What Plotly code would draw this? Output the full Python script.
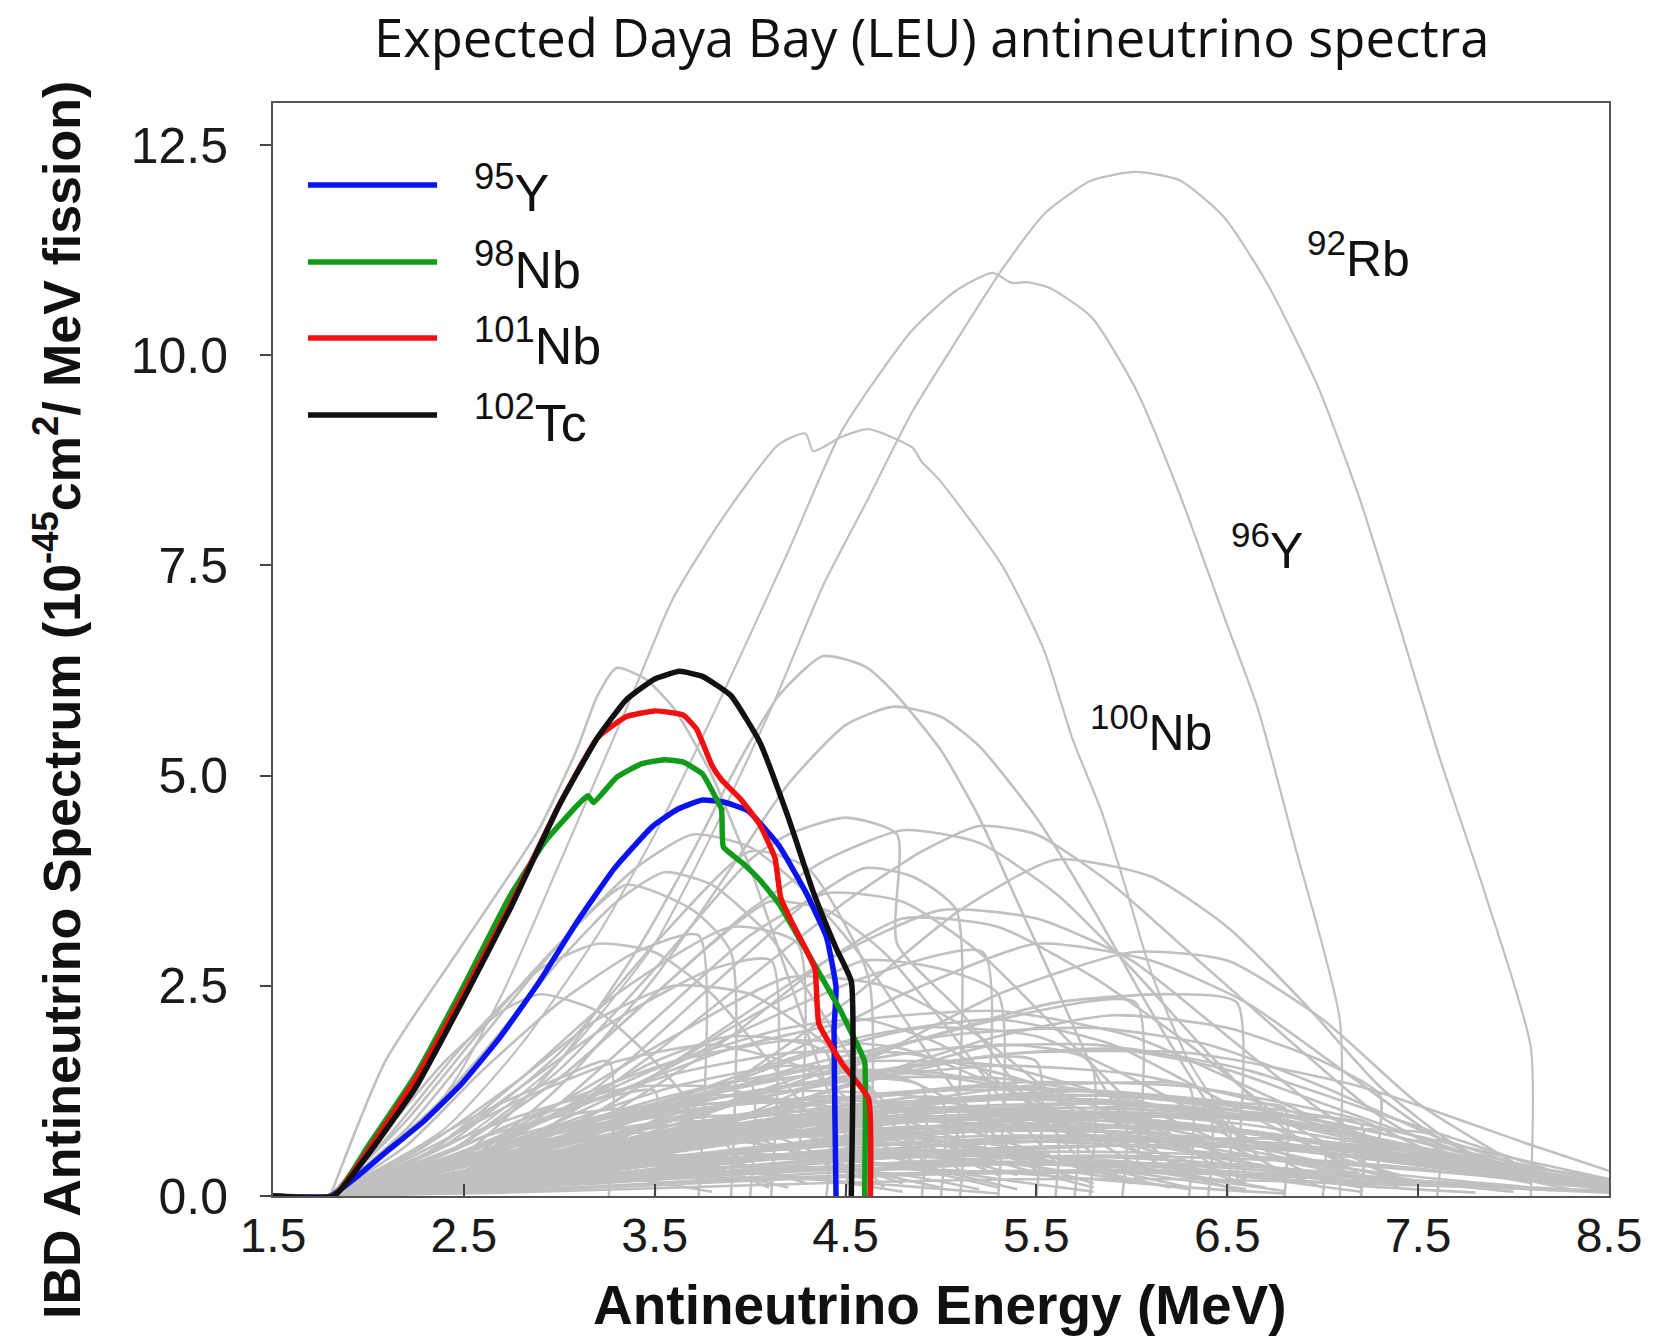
import plotly.graph_objects as go

# ---------------------------------------------------------------------------
# Highlighted isotopes: energy (MeV) and IBD-weighted spectrum
# ---------------------------------------------------------------------------
y95_e = [1.5, 1.8, 1.95, 2.09, 2.29, 2.49, 2.69, 2.89, 3.09, 3.29, 3.49, 3.62, 3.75,
         3.87, 3.99, 4.15, 4.29, 4.40, 4.45, 4.44, 4.45]
y95_v = [0, 0, 0.25, 0.52, 0.89, 1.34, 1.89, 2.53, 3.25, 3.90, 4.40, 4.60, 4.71,
         4.68, 4.58, 4.17, 3.62, 3.08, 2.48, 2.0, 0]

nb98_e = [1.5, 1.82, 2.0, 2.25, 2.5, 2.74, 2.93, 3.1, 3.15, 3.18, 3.3, 3.43, 3.55, 3.65,
          3.75, 3.81, 3.85, 3.86, 3.96, 4.05, 4.15, 4.24, 4.35, 4.47, 4.58, 4.6, 4.6]
nb98_v = [0, 0, 0.6, 1.45, 2.5, 3.56, 4.23, 4.66, 4.76, 4.68, 4.98, 5.14, 5.19, 5.16,
          5.02, 4.78, 4.6, 4.15, 3.96, 3.76, 3.48, 3.13, 2.7, 2.22, 1.71, 1.6, 0]

nb101_e = [1.5, 1.82, 2.0, 2.25, 2.5, 2.74, 3.0, 3.2, 3.35, 3.5, 3.65, 3.72, 3.8, 3.85,
           3.95, 4.05, 4.13, 4.16, 4.22, 4.3, 4.34, 4.36, 4.48, 4.62, 4.63]
nb101_v = [0, 0, 0.55, 1.4, 2.42, 3.44, 4.65, 5.45, 5.7, 5.77, 5.72, 5.55, 5.12, 4.95,
           4.72, 4.42, 4.02, 3.55, 3.25, 2.9, 2.7, 2.05, 1.58, 1.16, 0]

tc102_e = [1.5, 1.82, 2.0, 2.25, 2.5, 2.75, 3.0, 3.2, 3.35, 3.5, 3.63, 3.75, 3.9, 4.05,
           4.2, 4.33, 4.45, 4.53, 4.53]
tc102_v = [0, 0, 0.5, 1.3, 2.35, 3.45, 4.65, 5.45, 5.9, 6.15, 6.24, 6.18, 5.95, 5.4,
           4.5, 3.62, 2.95, 2.55, 0]

# ---------------------------------------------------------------------------
# Labelled grey spectra
# ---------------------------------------------------------------------------
rb92_e = [1.8, 2.5, 3.0, 3.5, 3.8, 4.13, 4.38, 4.62, 4.85, 5.08, 5.32, 5.55, 5.79, 6.02,
          6.25, 6.48, 6.71, 6.98, 7.2, 7.4, 7.6, 7.85, 8.09, 8.09]
rb92_v = [0, 0.7, 1.6, 3.0, 4.3, 5.9, 7.25, 8.3, 9.33, 10.17, 11.02, 11.7, 12.08, 12.18,
          12.08, 11.65, 10.85, 9.6, 8.25, 6.8, 5.3, 3.6, 1.77, 0]

y96_e = [1.8, 2.4, 2.8, 3.2, 3.5, 3.84, 4.2, 4.48, 4.85, 5.08, 5.27, 5.37, 5.45, 5.57,
         5.79, 6.02, 6.25, 6.49, 6.66, 6.85, 7.09, 7.09]
y96_v = [0, 0.8, 1.8, 3.1, 4.3, 5.89, 7.67, 9.1, 10.3, 10.77, 10.98, 10.86, 10.87, 10.8,
         10.45, 9.6, 8.35, 6.85, 5.8, 4.2, 2.09, 0]

nb100_e = [1.8, 2.4, 2.7, 3.0, 3.2, 3.39, 3.59, 3.84, 4.15, 4.29, 4.33, 4.48, 4.62, 4.85,
           4.9, 4.99, 5.32, 5.54, 5.69, 5.84, 5.97, 6.1, 6.3, 6.56, 6.9, 7.3]
nb100_v = [0, 1.2, 2.4, 3.95, 5.0, 6.0, 7.08, 8.01, 8.94, 9.07, 8.86, 9.03, 9.12, 8.9,
           8.73, 8.52, 7.5, 6.49, 5.43, 4.58, 3.65, 2.67, 1.6, 0.76, 0.3, 0.1]

# ---------------------------------------------------------------------------
# Remaining fission-product spectra (unlabelled, grey)
# ---------------------------------------------------------------------------
upper_spectra = [
    ([1.8, 2.09, 2.49, 2.89, 3.09, 3.2, 3.3, 3.45, 3.6, 3.8, 4.0, 4.2, 4.4, 4.55, 4.7],
     [0, 1.61, 2.98, 4.35, 5.3, 5.95, 6.28, 6.15, 5.8, 5.0, 3.9, 2.6, 1.3, 0.5, 0.1]),
    ([1.8, 2.5, 3.0, 3.4, 3.7, 3.95, 4.15, 4.38, 4.6, 4.75, 5.0, 5.2, 5.4, 5.6, 5.8, 6.0,
      6.3, 6.6],
     [0, 0.5, 1.6, 2.9, 4.1, 5.2, 5.95, 6.42, 6.3, 6.0, 5.3, 4.5, 3.5, 2.5, 1.5, 0.8,
      0.25, 0.05]),
    ([1.8, 2.5, 3.0, 3.5, 3.9, 4.2, 4.5, 4.75, 5.0, 5.2, 5.5, 5.8, 6.1, 6.4, 6.7, 7.0],
     [0, 0.4, 1.3, 2.6, 3.9, 4.9, 5.6, 5.82, 5.7, 5.35, 4.5, 3.4, 2.2, 1.1, 0.4, 0.1]),
    ([1.8, 2.5, 3.0, 3.5, 4.0, 4.5, 4.9, 5.2, 5.5, 5.9, 6.3, 6.8, 7.3, 7.8, 8.3],
     [0, 0.3, 0.9, 1.7, 2.6, 3.5, 4.1, 4.4, 4.3, 3.7, 2.9, 1.9, 0.95, 0.35, 0.08]),
    ([1.8, 2.4, 3.0, 3.5, 4.0, 4.4, 4.8, 5.2, 5.6, 6.0, 6.4, 6.8, 7.2],
     [0, 0.5, 1.4, 2.4, 3.4, 4.0, 4.35, 4.2, 3.6, 2.7, 1.7, 0.8, 0.25]),
    ([1.8, 2.2, 2.6, 3.0, 3.4, 3.7, 4.0, 4.3, 4.6, 4.9, 5.2, 5.5],
     [0, 0.8, 1.9, 3.0, 3.9, 4.3, 4.15, 3.6, 2.8, 1.8, 0.9, 0.3]),
    ([1.8, 2.4, 3.0, 3.5, 4.0, 4.3, 4.62, 4.62],
     [0, 0.6, 1.7, 3.0, 4.1, 3.9, 2.6, 0]),
    ([1.8, 2.2, 2.6, 3.0, 3.35, 3.7, 3.9, 3.9],
     [0, 0.9, 2.0, 3.0, 3.7, 3.4, 2.9, 0]),
    ([1.8, 2.5, 3.0, 3.5, 4.0, 4.4, 4.8, 5.2, 5.6, 6.0, 6.4],
     [0, 0.4, 1.1, 2.1, 3.1, 3.6, 3.5, 2.9, 2.0, 1.1, 0.4]),
    ([1.8, 2.5, 3.2, 3.8, 4.4, 5.0, 5.5, 6.0, 6.5, 7.0, 7.5],
     [0, 0.3, 1.0, 1.9, 2.8, 3.4, 3.3, 2.8, 1.9, 1.0, 0.35]),
    ([1.8, 2.3, 2.8, 3.3, 3.9, 4.25, 4.25],
     [0, 0.5, 1.4, 2.4, 3.2, 3.0, 0.3]),
    ([1.8, 2.6, 3.4, 4.2, 4.8, 5.5, 6.1, 6.6, 7.1, 7.6, 8.1],
     [0, 0.2, 0.8, 1.7, 2.4, 3.0, 2.8, 2.3, 1.5, 0.7, 0.2]),
    ([1.8, 2.1, 2.5, 2.9, 3.2, 3.5, 3.8, 4.1, 4.4, 4.6],
     [0, 0.7, 1.8, 2.7, 3.0, 2.9, 2.4, 1.6, 0.7, 0.2]),
    ([1.8, 2.5, 3.2, 3.9, 4.6, 5.0, 5.3, 5.3],
     [0, 0.3, 1.0, 2.0, 2.8, 2.7, 2.4, 0]),
    ([1.8, 2.4, 3.0, 3.6, 4.2, 4.7, 5.2, 5.7, 6.2],
     [0, 0.4, 1.1, 1.9, 2.6, 2.5, 1.9, 1.0, 0.3]),
    ([1.8, 2.3, 2.8, 3.2, 3.6, 4.0, 4.4, 4.8, 5.1],
     [0, 0.6, 1.4, 2.1, 2.5, 2.4, 1.8, 0.9, 0.3]),
    ([1.8, 2.8, 3.8, 4.6, 5.3, 5.9, 6.5, 7.0, 7.3, 7.3, 7.6, 8.0],
     [0, 0.2, 0.8, 1.4, 1.9, 2.15, 2.0, 1.6, 1.2, 0.3, 0.15, 0.05]),
    ([1.8, 2.6, 3.4, 4.2, 4.9, 5.5, 6.0, 6.5, 7.0],
     [0, 0.3, 0.9, 1.6, 2.0, 1.9, 1.4, 0.8, 0.3]),
    ([1.8, 2.1, 2.4, 2.7, 2.9, 3.2, 3.5, 3.8, 4.0],
     [0, 0.8, 1.6, 2.2, 2.4, 2.2, 1.6, 0.8, 0.3]),
    ([1.8, 2.4, 3.0, 3.5, 3.9, 4.4, 4.4],
     [0, 0.4, 1.0, 1.6, 1.9, 1.7, 0]),
    ([1.8, 2.6, 3.4, 4.2, 4.8, 5.3, 5.78, 5.78],
     [0, 0.2, 0.6, 1.1, 1.5, 1.8, 1.6, 0]),
    ([1.8, 2.5, 3.2, 3.8, 4.3, 4.6, 4.85, 5.08, 5.08],
     [0, 0.4, 1.3, 2.5, 3.5, 3.9, 3.8, 3.4, 0.5]),
    ([1.8, 2.4, 3.0, 3.5, 4.0, 4.2, 4.5, 4.77, 4.77, 5.1, 5.4, 5.7],
     [0, 0.5, 1.5, 2.7, 4.0, 4.3, 4.5, 4.3, 3.0, 2.2, 1.3, 0.5]),
    ([1.8, 2.4, 3.0, 3.5, 3.8, 4.1, 4.4, 4.7, 5.0, 5.3, 5.6],
     [0, 0.5, 1.4, 2.4, 3.0, 3.5, 3.4, 2.9, 2.1, 1.2, 0.4]),
    ([1.8, 2.2, 2.6, 3.0, 3.3, 3.55, 3.8, 4.1, 4.4, 4.7, 4.95],
     [0, 0.7, 1.7, 2.8, 3.5, 3.85, 3.7, 3.1, 2.1, 1.0, 0.3]),
    ([1.8, 2.5, 3.2, 3.9, 4.4, 4.8, 5.3, 5.8, 6.3, 6.8, 7.3],
     [0, 0.3, 0.9, 1.9, 2.8, 3.3, 3.2, 2.6, 1.8, 0.9, 0.3]),
    ([1.8, 3.0, 3.8, 4.6, 5.3, 6.0, 6.5, 7.0, 7.5, 8.0],
     [0, 0.3, 0.8, 1.6, 2.4, 2.9, 2.8, 2.1, 1.1, 0.4]),
    ([1.8, 3.0, 3.8, 4.5, 5.1, 5.6, 6.1, 6.5, 6.9, 7.3, 7.7, 8.1],
     [0, 0.4, 1.2, 2.3, 3.4, 4.0, 3.8, 3.2, 2.3, 1.3, 0.6, 0.2]),
]

middle_spectra = [
    ([1.8, 2.5, 3.2, 3.9, 4.6, 5.3, 6.0, 6.7, 7.4, 8.1, 8.5],
     [0, 0.25, 0.6, 0.95, 1.2, 1.3, 1.2, 0.95, 0.6, 0.3, 0.15]),
    ([1.8, 2.4, 3.0, 3.6, 4.2, 4.8, 5.4, 6.0, 6.6],
     [0, 0.3, 0.7, 1.1, 1.4, 1.5, 1.3, 0.8, 0.3]),
    ([1.8, 2.3, 2.8, 3.3, 3.8, 4.3, 4.8, 5.3],
     [0, 0.3, 0.7, 1.0, 1.2, 1.1, 0.7, 0.25]),
    ([1.8, 2.6, 3.4, 4.2, 5.0, 5.8, 6.6, 7.4, 8.2, 8.5],
     [0, 0.15, 0.45, 0.75, 0.95, 1.0, 0.85, 0.55, 0.2, 0.1]),
    ([1.8, 2.2, 2.6, 3.0, 3.4, 3.8, 4.2, 4.6],
     [0, 0.3, 0.6, 0.85, 0.95, 0.85, 0.55, 0.2]),
    ([1.8, 2.5, 3.2, 3.9, 4.6, 5.3, 6.0, 6.6],
     [0, 0.2, 0.5, 0.8, 0.95, 0.9, 0.6, 0.2]),
    ([1.8, 2.7, 3.6, 4.5, 5.4, 6.3, 7.2, 8.1, 8.5],
     [0, 0.15, 0.4, 0.65, 0.8, 0.8, 0.6, 0.3, 0.15]),
    ([1.8, 2.3, 2.8, 3.3, 3.8, 4.3, 4.8],
     [0, 0.2, 0.45, 0.65, 0.7, 0.5, 0.15]),
    ([1.8, 2.4, 3.0, 3.6, 4.2, 4.8, 5.4, 6.0],
     [0, 0.15, 0.35, 0.55, 0.7, 0.7, 0.5, 0.2]),
    ([1.8, 2.6, 3.4, 4.2, 5.0, 5.8, 6.6, 7.4, 8.2, 8.5],
     [0, 0.1, 0.3, 0.5, 0.65, 0.7, 0.6, 0.4, 0.15, 0.08]),
    ([1.8, 2.2, 2.6, 3.0, 3.4, 3.8, 4.1],
     [0, 0.15, 0.35, 0.5, 0.5, 0.35, 0.1]),
    ([1.8, 2.5, 3.2, 3.9, 4.6, 5.3, 6.0, 6.7, 7.2],
     [0, 0.1, 0.25, 0.4, 0.5, 0.5, 0.4, 0.2, 0.05]),
    ([1.8, 2.8, 3.8, 4.8, 5.8, 6.8, 7.8, 8.5],
     [0, 0.1, 0.25, 0.4, 0.48, 0.42, 0.25, 0.1]),
    ([1.8, 2.4, 3.0, 3.6, 4.2, 4.8, 5.2],
     [0, 0.1, 0.22, 0.32, 0.35, 0.25, 0.08]),
    ([1.8, 2.6, 3.4, 4.2, 5.0, 5.5, 5.5],
     [0, 0.3, 0.8, 1.3, 1.6, 1.6, 0]),
    ([1.8, 2.5, 3.2, 3.9, 4.5, 4.9, 4.9],
     [0, 0.3, 0.8, 1.2, 1.4, 1.3, 0]),
    ([1.8, 2.7, 3.6, 4.5, 5.4, 6.0, 6.3, 6.3],
     [0, 0.2, 0.6, 1.0, 1.3, 1.35, 1.3, 0]),
    ([1.8, 2.4, 3.0, 3.6, 4.0, 4.0],
     [0, 0.3, 0.8, 1.2, 1.35, 0]),
    ([1.8, 2.6, 3.4, 4.2, 5.0, 5.8, 6.6, 6.8, 6.8],
     [0, 0.2, 0.55, 0.9, 1.15, 1.25, 1.1, 1.05, 0]),
    ([1.8, 2.3, 2.8, 3.3, 3.5, 3.5],
     [0, 0.4, 0.9, 1.2, 1.25, 0]),
    ([1.8, 2.2, 2.6, 3.0, 3.26, 3.26],
     [0, 0.5, 1.0, 1.4, 1.6, 0]),
    ([1.8, 2.6, 3.4, 4.2, 5.0, 5.8, 6.4, 7.0, 7.6, 8.2],
     [0, 0.35, 0.9, 1.5, 1.9, 2.0, 1.8, 1.3, 0.7, 0.25]),
    ([1.8, 2.5, 3.2, 3.9, 4.6, 5.3, 5.9, 6.5, 7.1],
     [0, 0.3, 0.8, 1.4, 1.9, 2.1, 1.8, 1.1, 0.4]),
    ([1.8, 2.4, 3.0, 3.6, 4.2, 4.6, 5.0, 5.4, 5.8],
     [0, 0.4, 1.0, 1.6, 2.0, 2.1, 1.8, 1.2, 0.5]),
    ([1.8, 2.7, 3.6, 4.5, 5.2, 5.9, 6.5, 7.0, 7.5, 8.0, 8.5],
     [0, 0.2, 0.7, 1.3, 1.65, 1.75, 1.5, 1.1, 0.7, 0.35, 0.15]),
    ([1.8, 2.8, 3.8, 4.8, 5.6, 6.2, 6.55, 6.55],
     [0, 0.3, 1.0, 1.8, 2.3, 2.4, 2.3, 0.2]),
    ([1.8, 2.7, 3.6, 4.5, 5.3, 6.02, 6.02],
     [0, 0.3, 0.9, 1.6, 2.1, 2.3, 0.2]),
    ([1.8, 2.5, 3.2, 3.9, 4.6, 5.22, 5.22],
     [0, 0.4, 1.1, 1.9, 2.6, 2.9, 0.3]),
    ([1.8, 2.3, 2.8, 3.3, 3.8, 4.11, 4.11],
     [0, 0.5, 1.3, 2.1, 2.7, 2.8, 0]),
    ([1.8, 2.2, 2.6, 3.0, 3.4, 3.73, 3.73],
     [0, 0.6, 1.5, 2.3, 2.9, 3.1, 0]),
    ([1.8, 2.3, 2.8, 3.3, 3.8, 4.3, 4.8, 5.3, 5.8],
     [0, 0.25, 0.55, 0.8, 0.95, 0.95, 0.75, 0.4, 0.1]),
    ([1.8, 2.6, 3.4, 4.2, 5.0, 5.8, 6.6, 7.4],
     [0, 0.25, 0.6, 0.9, 1.05, 0.95, 0.6, 0.2]),
    ([1.8, 2.5, 3.2, 3.9, 4.6, 5.3, 6.0, 6.7, 7.4, 8.1],
     [0, 0.12, 0.3, 0.5, 0.62, 0.66, 0.6, 0.45, 0.25, 0.1]),
    ([1.8, 2.2, 2.6, 3.0, 3.4, 3.8, 4.2, 4.6, 5.0],
     [0, 0.2, 0.45, 0.65, 0.75, 0.72, 0.55, 0.3, 0.1]),
    ([1.8, 2.8, 3.8, 4.8, 5.8, 6.8, 7.8, 8.5],
     [0, 0.2, 0.5, 0.75, 0.85, 0.7, 0.35, 0.15]),
    ([1.8, 2.4, 3.0, 3.6, 4.2, 4.8, 5.4, 6.0, 6.6, 7.2],
     [0, 0.2, 0.5, 0.8, 1.0, 1.05, 0.95, 0.7, 0.4, 0.15]),
    ([1.8, 2.3, 2.8, 3.3, 3.8, 4.3, 4.6, 4.6],
     [0, 0.2, 0.45, 0.65, 0.8, 0.85, 0.8, 0]),
    ([1.8, 2.5, 3.2, 3.9, 4.6, 5.3, 5.95, 5.95],
     [0, 0.25, 0.6, 0.9, 1.1, 1.15, 1.05, 0]),
    ([1.8, 2.7, 3.6, 4.5, 5.4, 6.3, 7.2, 7.6, 7.6],
     [0, 0.15, 0.4, 0.7, 0.9, 0.95, 0.8, 0.7, 0]),
    ([1.8, 2.2, 2.6, 3.0, 3.4, 3.8, 4.2],
     [0, 0.12, 0.25, 0.35, 0.38, 0.3, 0.1]),
    ([1.8, 2.6, 3.4, 4.2, 5.0, 5.8, 6.6, 7.4, 8.2],
     [0, 0.08, 0.2, 0.32, 0.4, 0.4, 0.32, 0.18, 0.07]),
    ([1.8, 2.5, 3.2, 3.9, 4.6, 5.3, 6.0],
     [0, 0.4, 0.9, 1.3, 1.5, 1.3, 0.6]),
    ([1.8, 2.4, 3.0, 3.6, 4.2, 4.8, 5.4],
     [0, 0.35, 0.85, 1.3, 1.55, 1.4, 0.7]),
    ([1.8, 2.9, 4.0, 5.0, 6.0, 7.0, 8.0, 8.5],
     [0, 0.3, 0.75, 1.1, 1.2, 0.95, 0.45, 0.2]),
    ([1.8, 2.3, 2.8, 3.3, 3.8, 4.3, 4.8, 5.3, 5.8, 6.3],
     [0, 0.15, 0.35, 0.55, 0.7, 0.78, 0.75, 0.6, 0.35, 0.1]),
]

low_spectra = [
    ([1.8, 2.3, 2.8, 3.3, 3.8, 4.3, 4.8], [0, 0.1, 0.2, 0.28, 0.3, 0.22, 0.05]),
    ([1.8, 2.5, 3.2, 3.9, 4.6, 5.3, 6.0, 6.7], [0, 0.12, 0.3, 0.45, 0.55, 0.52, 0.35, 0.1]),
    ([1.8, 2.6, 3.4, 4.2, 5.0, 5.8, 6.6, 7.4, 8.2],
     [0, 0.15, 0.38, 0.6, 0.75, 0.78, 0.65, 0.4, 0.15]),
    ([1.8, 2.4, 3.0, 3.6, 4.2, 4.8, 5.4], [0, 0.2, 0.45, 0.65, 0.75, 0.6, 0.25]),
    ([1.8, 2.7, 3.6, 4.5, 5.4, 6.3, 7.2, 8.1, 8.5],
     [0, 0.06, 0.15, 0.25, 0.3, 0.3, 0.22, 0.1, 0.06]),
    ([1.8, 2.3, 2.8, 3.3, 3.8, 4.3], [0, 0.18, 0.38, 0.5, 0.45, 0.15]),
    ([1.8, 2.5, 3.2, 3.9, 4.6, 5.3, 6.0, 6.7, 7.4],
     [0, 0.2, 0.48, 0.75, 0.92, 0.95, 0.8, 0.5, 0.15]),
    ([1.8, 2.6, 3.4, 4.2, 5.0, 5.8, 6.6, 7.4, 8.2, 8.5],
     [0, 0.05, 0.12, 0.2, 0.26, 0.28, 0.25, 0.16, 0.07, 0.04]),
    ([1.8, 2.4, 3.0, 3.6, 4.2, 4.8, 5.4, 6.0, 6.6],
     [0, 0.1, 0.25, 0.4, 0.5, 0.52, 0.45, 0.28, 0.08]),
    ([1.8, 2.2, 2.6, 3.0, 3.4, 3.8, 4.2, 4.6, 5.0, 5.4],
     [0, 0.25, 0.5, 0.7, 0.82, 0.85, 0.75, 0.55, 0.3, 0.08]),
    ([1.8, 2.8, 3.8, 4.8, 5.8, 6.8, 7.8, 8.5], [0, 0.35, 0.8, 1.1, 1.15, 0.9, 0.45, 0.2]),
    ([1.8, 2.5, 3.2, 3.9, 4.6, 5.3, 5.6, 5.6], [0, 0.15, 0.4, 0.62, 0.78, 0.82, 0.8, 0]),
    ([1.8, 2.4, 3.0, 3.6, 4.2, 4.8, 5.1, 5.1], [0, 0.2, 0.5, 0.75, 0.9, 0.92, 0.9, 0]),
    ([1.8, 2.7, 3.6, 4.5, 5.4, 6.3, 7.0, 7.0], [0, 0.12, 0.32, 0.52, 0.65, 0.68, 0.6, 0]),
    ([1.8, 2.3, 2.8, 3.3, 3.8, 4.3, 4.8, 5.3], [0, 0.12, 0.28, 0.42, 0.5, 0.48, 0.35, 0.1]),
    ([1.8, 2.6, 3.4, 4.2, 5.0, 5.8, 6.6, 7.4, 8.2],
     [0, 0.3, 0.7, 1.05, 1.25, 1.25, 1.0, 0.6, 0.2]),
    ([1.8, 2.4, 3.0, 3.6, 4.2, 4.8, 5.4, 6.0], [0, 0.35, 0.75, 1.05, 1.15, 1.0, 0.6, 0.15]),
    ([1.8, 2.5, 3.2, 3.9, 4.6, 5.3, 6.0, 6.7, 7.4, 8.1],
     [0, 0.08, 0.2, 0.34, 0.44, 0.48, 0.45, 0.35, 0.2, 0.08]),
    ([1.8, 2.2, 2.6, 3.0, 3.4, 3.8], [0, 0.1, 0.2, 0.25, 0.2, 0.05]),
    ([1.8, 2.7, 3.6, 4.5, 5.4, 6.3, 7.2, 8.1], [0, 0.25, 0.65, 1.0, 1.2, 1.15, 0.8, 0.3]),
    ([1.8, 2.5, 3.2, 3.9, 4.6, 5.3, 6.0, 6.5, 6.5],
     [0, 0.2, 0.5, 0.8, 1.0, 1.05, 0.95, 0.85, 0]),
    ([1.8, 2.4, 3.0, 3.6, 4.2, 4.8, 5.4, 6.0, 6.6, 7.2, 7.8],
     [0, 0.06, 0.15, 0.25, 0.33, 0.38, 0.38, 0.33, 0.24, 0.12, 0.04]),
    ([1.8, 2.3, 2.8, 3.3, 3.8, 4.3, 4.8, 5.3, 5.8],
     [0, 0.3, 0.65, 0.95, 1.1, 1.1, 0.9, 0.5, 0.15]),
    ([1.8, 2.6, 3.4, 4.2, 5.0, 5.8, 6.6, 7.2, 7.2],
     [0, 0.1, 0.28, 0.46, 0.6, 0.66, 0.6, 0.5, 0]),
    ([1.8, 2.5, 3.2, 3.9, 4.6, 5.3, 6.0, 6.7], [0, 0.4, 0.9, 1.35, 1.6, 1.55, 1.1, 0.4]),
    ([1.8, 2.8, 3.8, 4.8, 5.8, 6.8, 7.8, 8.5], [0, 0.15, 0.4, 0.62, 0.72, 0.62, 0.32, 0.14]),
    ([1.8, 2.4, 3.0, 3.6, 4.2, 4.5, 4.5], [0, 0.3, 0.7, 1.0, 1.15, 1.15, 0]),
    ([1.8, 2.3, 2.8, 3.3, 3.8, 4.3, 4.8, 5.3, 5.8, 6.3, 6.8],
     [0, 0.06, 0.14, 0.22, 0.28, 0.32, 0.32, 0.28, 0.2, 0.1, 0.03]),
    ([1.8, 2.6, 3.4, 4.2, 5.0, 5.8, 6.6, 7.4, 8.2, 8.5],
     [0, 0.22, 0.55, 0.85, 1.05, 1.1, 0.95, 0.6, 0.25, 0.12]),
    ([1.8, 2.5, 3.2, 3.9, 4.6, 5.3, 6.0, 6.7, 7.4],
     [0, 0.35, 0.8, 1.2, 1.4, 1.4, 1.15, 0.7, 0.25]),
    ([1.8, 2.2, 2.6, 3.0, 3.4, 3.8, 4.2, 4.6], [0, 0.35, 0.7, 0.95, 1.05, 0.95, 0.65, 0.25]),
    ([1.8, 2.7, 3.6, 4.5, 5.4, 6.3, 7.2, 8.1, 8.5],
     [0, 0.1, 0.28, 0.46, 0.58, 0.6, 0.48, 0.22, 0.1]),
    ([1.8, 2.4, 3.0, 3.6, 4.2, 4.8, 5.4, 6.0, 6.6, 7.2],
     [0, 0.45, 1.0, 1.45, 1.7, 1.7, 1.4, 0.9, 0.4, 0.1]),
    ([1.8, 2.5, 3.2, 3.9, 4.6, 5.3, 6.0, 6.7, 7.4, 8.1],
     [0, 0.3, 0.7, 1.1, 1.4, 1.55, 1.45, 1.1, 0.6, 0.2]),
    ([1.8, 2.3, 2.8, 3.3, 3.8, 4.3, 4.8, 5.3, 5.7, 5.7],
     [0, 0.25, 0.55, 0.85, 1.05, 1.15, 1.1, 0.95, 0.8, 0]),
    ([1.8, 2.6, 3.4, 4.2, 5.0, 5.8, 6.6, 7.4, 8.2],
     [0, 0.4, 0.95, 1.45, 1.75, 1.8, 1.5, 0.9, 0.3]),
    ([1.8, 2.4, 3.0, 3.6, 4.2, 4.8, 5.4, 6.0], [0, 0.5, 1.1, 1.6, 1.85, 1.75, 1.2, 0.4]),
    ([1.8, 2.5, 3.2, 3.9, 4.6, 5.3, 6.0, 6.7, 7.4],
     [0, 0.5, 1.15, 1.75, 2.1, 2.2, 1.9, 1.2, 0.45]),
    ([1.8, 2.3, 2.8, 3.3, 3.8, 4.3, 4.8], [0, 0.55, 1.15, 1.6, 1.8, 1.5, 0.6]),
    ([1.8, 2.7, 3.6, 4.5, 5.4, 6.3, 7.2, 8.1, 8.5],
     [0, 0.35, 0.9, 1.4, 1.7, 1.7, 1.3, 0.6, 0.3]),
]

tail_spectra = [
    ([1.8, 2.6, 3.4, 4.2, 5.0, 5.8, 6.6, 7.6, 8.5], [0, 0.2, 0.5, 0.75, 0.9, 0.9, 0.75, 0.4, 0.12]),
    ([1.8, 2.5, 3.2, 3.9, 4.6, 5.3, 6.0, 6.8, 7.6, 8.5],
     [0, 0.15, 0.35, 0.55, 0.7, 0.78, 0.75, 0.6, 0.42, 0.15]),
    ([1.8, 2.4, 3.0, 3.6, 4.2, 4.8, 5.4, 6.0, 6.6, 7.2, 7.6, 8.5],
     [0, 0.3, 0.6, 0.85, 1.0, 1.05, 1.0, 0.9, 0.75, 0.55, 0.45, 0.1]),
    ([1.8, 2.7, 3.6, 4.5, 5.4, 6.3, 7.0, 7.6, 8.5], [0, 0.25, 0.6, 0.9, 1.05, 1.0, 0.8, 0.45, 0.15]),
    ([1.8, 2.3, 2.8, 3.3, 3.8, 4.3, 4.8, 5.3, 5.8, 6.3, 6.8],
     [0, 0.1, 0.25, 0.4, 0.52, 0.6, 0.62, 0.55, 0.4, 0.22, 0.06]),
    ([1.8, 2.5, 3.2, 3.9, 4.6, 5.3, 6.0, 6.7, 7.4], [0, 0.3, 0.62, 0.85, 0.95, 0.9, 0.72, 0.45, 0.15]),
    ([1.8, 2.6, 3.4, 4.2, 5.0, 5.8, 6.6, 7.4], [0, 0.05, 0.14, 0.25, 0.35, 0.4, 0.35, 0.2]),
    ([1.8, 2.2, 2.6, 3.0, 3.4, 3.8, 4.2, 4.6, 5.0, 5.4, 5.8],
     [0, 0.08, 0.18, 0.28, 0.36, 0.42, 0.44, 0.4, 0.3, 0.17, 0.05]),
    ([1.8, 2.8, 3.8, 4.8, 5.8, 6.6, 7.2, 7.2], [0, 0.2, 0.5, 0.8, 0.95, 0.95, 0.85, 0]),
    ([1.8, 2.5, 3.2, 3.9, 4.6, 5.3, 6.0, 6.7, 7.4, 8.0, 8.5],
     [0, 0.1, 0.22, 0.35, 0.46, 0.52, 0.52, 0.46, 0.35, 0.2, 0.1]),
    ([1.8, 2.4, 3.0, 3.6, 4.2, 4.8, 5.4, 6.0, 6.6], [0, 0.4, 0.8, 1.1, 1.25, 1.2, 0.95, 0.55, 0.15]),
    ([1.8, 2.7, 3.6, 4.5, 5.4, 6.3, 7.2, 7.6, 8.5], [0, 0.3, 0.75, 1.15, 1.35, 1.3, 0.9, 0.5, 0.12]),
    ([1.8, 2.3, 2.8, 3.3, 3.8, 4.3, 4.8, 5.3], [0, 0.05, 0.12, 0.18, 0.22, 0.2, 0.12, 0.03]),
    ([1.8, 2.6, 3.4, 4.2, 5.0, 5.8, 6.4, 6.4], [0, 0.2, 0.5, 0.8, 1.0, 1.05, 1.0, 0]),
    ([1.8, 2.5, 3.2, 3.9, 4.6, 5.3, 6.0, 6.7, 7.4, 8.1],
     [0, 0.18, 0.42, 0.66, 0.85, 0.95, 0.92, 0.75, 0.45, 0.15]),
    ([1.8, 2.4, 3.0, 3.6, 4.2, 4.8, 5.4, 6.0, 6.6, 7.2, 7.8, 8.5],
     [0, 0.12, 0.28, 0.44, 0.58, 0.68, 0.72, 0.7, 0.6, 0.45, 0.28, 0.12]),
    ([1.8, 2.2, 2.6, 3.0, 3.4, 3.8, 4.2, 4.6, 5.0], [0, 0.4, 0.8, 1.1, 1.3, 1.3, 1.1, 0.7, 0.25]),
    ([1.8, 2.9, 4.0, 5.0, 6.0, 7.0, 7.6, 8.5], [0, 0.12, 0.32, 0.5, 0.6, 0.55, 0.43, 0.15]),
    ([1.8, 2.5, 3.2, 3.9, 4.6, 5.0, 5.0], [0, 0.25, 0.6, 0.9, 1.1, 1.15, 0]),
    ([1.8, 2.6, 3.4, 4.2, 5.0, 5.8, 6.6, 7.1, 7.1], [0, 0.18, 0.45, 0.72, 0.92, 1.0, 0.95, 0.88, 0.3]),
    ([1.8, 2.3, 2.8, 3.3, 3.8, 4.3, 4.8, 5.3, 5.8, 6.3, 6.8, 7.3],
     [0, 0.2, 0.42, 0.62, 0.78, 0.88, 0.9, 0.85, 0.72, 0.52, 0.3, 0.1]),
    ([1.8, 2.7, 3.6, 4.5, 5.4, 6.3, 7.2, 8.1, 8.5], [0, 0.04, 0.1, 0.16, 0.2, 0.2, 0.15, 0.08, 0.05]),
    ([1.8, 2.4, 3.0, 3.6, 4.2, 4.8, 5.4, 6.0, 6.6, 7.2, 7.6, 8.5],
     [0, 0.2, 0.45, 0.7, 0.9, 1.0, 1.0, 0.92, 0.78, 0.58, 0.44, 0.13]),
    ([1.8, 2.5, 3.2, 3.9, 4.6, 5.3, 6.0, 6.7, 7.4], [0, 0.06, 0.15, 0.25, 0.33, 0.38, 0.36, 0.26, 0.12]),
    ([1.8, 2.6, 3.4, 4.2, 5.0, 5.8, 6.6, 7.4, 8.2, 8.5],
     [0, 0.3, 0.65, 0.95, 1.15, 1.2, 1.05, 0.7, 0.3, 0.18]),
    ([1.8, 2.2, 2.6, 3.0, 3.4, 3.8, 4.2, 4.6, 5.0, 5.4, 5.8, 6.2],
     [0, 0.15, 0.32, 0.48, 0.62, 0.72, 0.78, 0.76, 0.66, 0.5, 0.3, 0.1]),
    ([1.8, 2.8, 3.8, 4.8, 5.8, 6.8, 7.6, 8.5], [0, 0.25, 0.62, 0.95, 1.1, 0.95, 0.45, 0.15]),
    ([1.8, 2.4, 3.0, 3.6, 4.2, 4.8, 5.4, 6.0, 6.5, 6.5],
     [0, 0.15, 0.35, 0.55, 0.72, 0.82, 0.85, 0.8, 0.72, 0]),
    ([1.8, 2.5, 3.2, 3.9, 4.6, 5.3, 6.0, 6.7, 7.6, 8.5],
     [0, 0.22, 0.52, 0.82, 1.05, 1.15, 1.1, 0.9, 0.45, 0.1]),
    ([1.8, 2.3, 2.8, 3.3, 3.8, 4.3, 4.8, 5.3, 5.8, 6.3],
     [0, 0.08, 0.2, 0.32, 0.42, 0.48, 0.48, 0.4, 0.25, 0.08]),
]

labelled_names = ["<sup>92</sup>Rb", "<sup>96</sup>Y", "<sup>100</sup>Nb"]
label_pos_e = [7.19, 6.71, 6.10]
label_pos_v = [11.19, 7.72, 5.55]

highlight_names = ["<sup>95</sup>Y", "<sup>98</sup>Nb", "<sup>101</sup>Nb", "<sup>102</sup>Tc"]
highlight_colors = ["#0a14f0", "#129a1a", "#f01010", "#111111"]

x_ticks = [1.5, 2.5, 3.5, 4.5, 5.5, 6.5, 7.5, 8.5]
y_ticks = [0.0, 2.5, 5.0, 7.5, 10.0, 12.5]

GREY = "rgb(192,192,192)"
BASE_FONT = "Liberation Sans, Arial, sans-serif"

fig = go.Figure()

grey_line = dict(color=GREY, width=2.6, shape="spline", smoothing=0.6)
for e, v in tail_spectra + low_spectra + middle_spectra + upper_spectra:
    fig.add_trace(go.Scatter(x=e, y=v, mode="lines", line=grey_line,
                             hoverinfo="skip", showlegend=False))
for e, v in [(nb100_e, nb100_v), (y96_e, y96_v), (rb92_e, rb92_v)]:
    fig.add_trace(go.Scatter(x=e, y=v, mode="lines",
                             line=dict(color=GREY, width=2.2, shape="spline", smoothing=0.6),
                             hoverinfo="skip", showlegend=False))

highlight_data = [(y95_e, y95_v), (nb98_e, nb98_v), (nb101_e, nb101_v), (tc102_e, tc102_v)]
for (e, v), name, col in zip(highlight_data, highlight_names, highlight_colors):
    fig.add_trace(go.Scatter(x=e, y=v, mode="lines", name=name,
                             line=dict(color=col, width=5.5, shape="spline", smoothing=0.4),
                             showlegend=False))

# isotope labels on the large grey spectra
for name, xe, yv in zip(labelled_names, label_pos_e, label_pos_v):
    fig.add_annotation(x=xe, y=yv, text=name, showarrow=False,
                       xanchor="center", yanchor="middle",
                       font=dict(family=BASE_FONT, size=50, color="#111111"))

# hand-placed legend with long line samples
legend_y = [0.925, 0.8545, 0.785, 0.7145]
for name, col, ly in zip(highlight_names, highlight_colors, legend_y):
    fig.add_shape(type="line", xref="paper", yref="paper",
                  x0=0.0262, x1=0.1228, y0=ly, y1=ly,
                  line=dict(color=col, width=5.5))
    fig.add_annotation(xref="paper", yref="paper", x=0.149, y=ly - 0.004,
                       text=name, showarrow=False, xanchor="left", yanchor="middle",
                       font=dict(family=BASE_FONT, size=52, color="#111111"))

# axis titles
fig.add_annotation(xref="paper", yref="paper", x=0.4993, y=-0.0998,
                   text="Antineutrino Energy (MeV)", showarrow=False,
                   xanchor="center", yanchor="middle",
                   font=dict(family=BASE_FONT, size=55, color="#111111", weight="bold"))
fig.add_annotation(xref="paper", yref="paper", x=-0.161, y=0.4538,
                   text="IBD Antineutrino Spectrum (10<sup>-45</sup>cm<sup>2</sup>/ MeV fission)",
                   showarrow=False, textangle=-90, xanchor="center", yanchor="middle",
                   font=dict(family=BASE_FONT, size=52, color="#111111", weight="bold"))

fig.update_layout(
    width=1658, height=1339, autosize=False,
    margin=dict(l=273, r=49, t=103, b=143),
    paper_bgcolor="white", plot_bgcolor="white",
    title=dict(text="Expected Daya Bay (LEU) antineutrino spectra",
               x=0.562, xanchor="center", y=0.9712, yanchor="middle",
               font=dict(family="Open Sans, sans-serif", size=52.5, color="#111111")),
    xaxis=dict(range=[1.5, 8.5], tickvals=x_ticks, tickformat=".1f",
               ticks="inside", ticklen=12, tickwidth=2, tickcolor="#444444",
               showline=True, linecolor="#555555", linewidth=2, mirror=True,
               showgrid=False, zeroline=False, ticklabelstandoff=-4,
               tickfont=dict(family=BASE_FONT, size=48, color="#1a1a1a")),
    yaxis=dict(range=[0, 13], tickvals=y_ticks, tickformat=".1f",
               ticks="outside", ticklen=11, tickwidth=2, tickcolor="#444444",
               showline=True, linecolor="#555555", linewidth=2, mirror=True,
               showgrid=False, zeroline=False, ticklabelstandoff=22,
               tickfont=dict(family=BASE_FONT, size=50, color="#1a1a1a")),
)

fig.write_html("out.html")
